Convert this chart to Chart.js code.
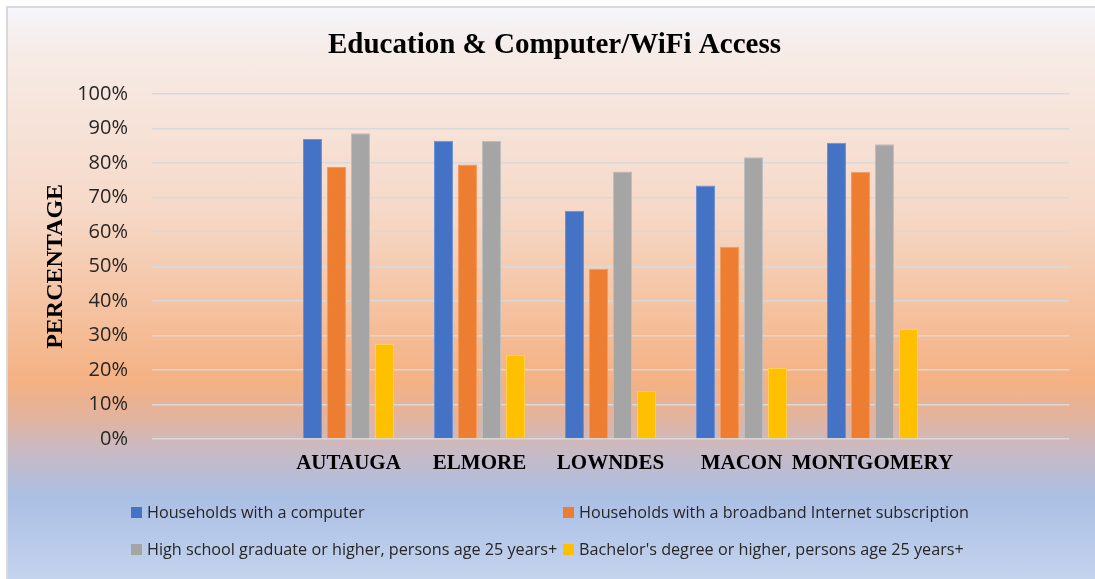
<!DOCTYPE html>
<html>
<head>
<meta charset="utf-8">
<script src="https://cdn.jsdelivr.net/npm/chart.js@4.4.0/dist/chart.umd.min.js"></script>
<style>
  html, body { margin: 0; padding: 0; background: #fff; }
  body { width: 1095px; height: 579px; position: relative; overflow: hidden; }
  .panel {
    position: absolute; left: 6px; top: 6px; right: -4px; bottom: -4px;
    border-left: 2px solid #d9d9d9; border-top: 2px solid #d9d9d9;
    background: linear-gradient(to bottom,
      #f5f6fb 0%, #f6ebe6 8%, #f6d9c8 35%, #f4b183 65%,
      #e3b39d 71%, #c8bac4 77%, #abbfe4 85%, #c5d4ee 100%);
  }
  #wrap { position: absolute; left: 0; top: 0; width: 1095px; height: 579px; }
  .legend { position: absolute; left: 0; top: 0; font-family: "Open Sans", sans-serif; font-size: 16.2px; color: #262626; }
  .legend .item { position: absolute; display: flex; align-items: center; white-space: nowrap; transform: translateY(-50%); }
  .legend .box { width: 11px; height: 11px; margin-right: 5px; }
</style>
</head>
<body>
<div class="panel"></div>
<div id="wrap"><canvas id="myChart" width="1095" height="579"></canvas></div>
<div class="legend" id="legend"></div>
<script>
const counties = ['', 'AUTAUGA', 'ELMORE', 'LOWNDES', 'MACON', 'MONTGOMERY', ''];
const computer = [null, 86.9, 86.4, 66.1, 73.4, 85.8, null];
const broadband = [null, 78.8, 79.5, 49.3, 55.7, 77.4, null];
const highSchool = [null, 88.6, 86.3, 77.5, 81.6, 85.4, null];
const bachelor = [null, 27.5, 24.3, 14.0, 20.6, 31.9, null];
const yTicks = [0, 10, 20, 30, 40, 50, 60, 70, 80, 90, 100];

const seriesNames = [
	'Households with a computer',
	'Households with a broadband Internet subscription',
	'High school graduate or higher, persons age 25 years+',
	"Bachelor's degree or higher, persons age 25 years+"
];
const colors = ['#4472c4', '#ed7d31', '#a5a5a5', '#ffc000'];
const edges = ['#6d90d2', '#f29a5e', '#bdbdbd', '#ffcf4d'];

const makeSet = (i, data) => ({
	label: seriesNames[i],
	data: data,
	backgroundColor: colors[i],
	borderColor: edges[i],
	borderWidth: 1,
	categoryPercentage: 0.733,
	barPercentage: 0.79
});

const ctx = document.getElementById('myChart').getContext('2d');
let myChart = new Chart(ctx, {
	type: 'bar',
	data: {
		labels: counties,
		datasets: [
			makeSet(0, computer),
			makeSet(1, broadband),
			makeSet(2, highSchool),
			makeSet(3, bachelor)
		]
	},
	options: {
		responsive: false,
		animation: false,
		layout: { padding: { left: 14, right: 0, top: 0, bottom: 100 } },
		plugins: {
			legend: { display: false },
			tooltip: { enabled: false },
			title: {
				display: true,
				text: 'Education & Computer/WiFi Access',
				color: '#000',
				font: { family: 'Liberation Serif', size: 29, weight: 'bold' },
				padding: { top: 28, bottom: 31 }
			}
		},
		scales: {
			x: {
				grid: { display: false, drawTicks: false },
				border: { display: false },
				ticks: {
					color: '#000',
					padding: 12,
					maxRotation: 0,
					minRotation: 0,
					autoSkip: false,
					font: { family: 'Liberation Serif', size: 21, weight: 'bold' }
				},
				afterFit: scale => { scale.height = 40; }
			},
			y: {
				min: 0,
				max: 100,
				afterBuildTicks: scale => { scale.ticks = yTicks.map(v => ({ value: v })); },
				grid: { color: '#d9d9d9', lineWidth: 1.5, drawTicks: false },
				border: { display: false },
				ticks: {
					color: '#262626',
					padding: 24,
					font: { family: 'Open Sans', size: 20 },
					callback: v => v + '%'
				},
				title: {
					display: true,
					text: 'PERCENTAGE',
					color: '#000',
					font: { family: 'Liberation Serif', size: 24, weight: 'bold' },
					padding: { top: 27, bottom: 0 }
				},
				afterFit: scale => { scale.width = 138; }
			},
			// empty strip on the right so the plot ends where the reference does
			spacer: {
				type: 'linear',
				position: 'right',
				grid: { display: false, drawTicks: false },
				border: { display: false },
				ticks: { display: false },
				afterFit: scale => { scale.width = 26; }
			}
		}
	}
});

// two-column legend under the chart
const legendPos = [[131, 512], [563, 512], [131, 549], [563, 549]];
const legendEl = document.getElementById('legend');
myChart.data.datasets.forEach((ds, i) => {
	const item = document.createElement('div');
	item.className = 'item';
	item.style.left = legendPos[i][0] + 'px';
	item.style.top = legendPos[i][1] + 'px';
	const box = document.createElement('span');
	box.className = 'box';
	box.style.background = ds.backgroundColor;
	const txt = document.createElement('span');
	txt.textContent = ds.label;
	item.appendChild(box);
	item.appendChild(txt);
	legendEl.appendChild(item);
});
</script>
</body>
</html>
